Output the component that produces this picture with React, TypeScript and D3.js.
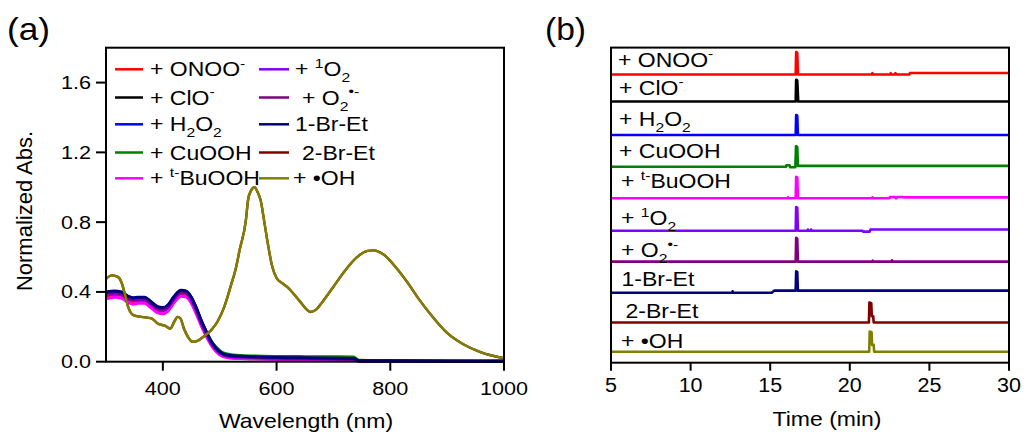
import React from "react";
import * as d3 from "d3";

// ---------------- Panel (a) data : UV-vis spectra ----------------
const wavelengths = [300, 315, 327, 339, 348, 356, 368, 377, 391, 400, 409, 420, 432, 441, 450, 458, 467, 476, 485, 493, 505, 520, 545, 600, 650, 700, 735, 745, 800, 900, 1000];
const absONOO = [0.375, 0.385, 0.38, 0.355, 0.345, 0.35, 0.35, 0.33, 0.295, 0.29, 0.305, 0.355, 0.39, 0.385, 0.35, 0.295, 0.225, 0.16, 0.105, 0.07, 0.038, 0.028, 0.025, 0.02, 0.018, 0.016, 0.015, 0.004, 0.003, 0.002, 0.001];
const absClO = [0.396, 0.401, 0.396, 0.371, 0.362, 0.366, 0.366, 0.346, 0.311, 0.306, 0.321, 0.371, 0.406, 0.401, 0.366, 0.311, 0.236, 0.171, 0.113, 0.076, 0.043, 0.031, 0.027, 0.022, 0.02, 0.018, 0.016, 0.005, 0.004, 0.003, 0.002];
const absH2O2 = [0.398, 0.403, 0.398, 0.373, 0.364, 0.368, 0.368, 0.348, 0.313, 0.308, 0.323, 0.373, 0.408, 0.403, 0.368, 0.313, 0.238, 0.173, 0.115, 0.078, 0.044, 0.032, 0.028, 0.023, 0.021, 0.019, 0.017, 0.006, 0.005, 0.003, 0.002];
const absCuOOH = [0.39, 0.395, 0.39, 0.365, 0.356, 0.36, 0.36, 0.34, 0.305, 0.3, 0.315, 0.365, 0.4, 0.395, 0.36, 0.307, 0.235, 0.172, 0.118, 0.085, 0.052, 0.04, 0.034, 0.03, 0.029, 0.028, 0.027, 0.008, 0.006, 0.004, 0.002];
const absTBuOOH = [0.36, 0.37, 0.365, 0.34, 0.33, 0.335, 0.335, 0.315, 0.28, 0.275, 0.29, 0.34, 0.375, 0.37, 0.335, 0.28, 0.21, 0.148, 0.095, 0.06, 0.03, 0.02, 0.017, 0.013, 0.012, 0.011, 0.01, 0.003, 0.002, 0.001, 0.001];
const abs1O2 = [0.385, 0.39, 0.385, 0.36, 0.351, 0.355, 0.355, 0.335, 0.3, 0.295, 0.31, 0.36, 0.395, 0.39, 0.355, 0.3, 0.226, 0.163, 0.108, 0.072, 0.04, 0.029, 0.025, 0.02, 0.018, 0.016, 0.015, 0.005, 0.004, 0.003, 0.002];
const absO2 = [0.39, 0.395, 0.39, 0.365, 0.356, 0.36, 0.36, 0.34, 0.305, 0.3, 0.315, 0.365, 0.4, 0.395, 0.36, 0.305, 0.23, 0.166, 0.11, 0.074, 0.042, 0.031, 0.027, 0.022, 0.02, 0.018, 0.016, 0.005, 0.004, 0.003, 0.002];
const abs1BrEt = [0.4, 0.405, 0.4, 0.375, 0.366, 0.37, 0.37, 0.35, 0.315, 0.31, 0.325, 0.375, 0.41, 0.405, 0.37, 0.315, 0.24, 0.175, 0.117, 0.08, 0.046, 0.034, 0.03, 0.024, 0.022, 0.02, 0.018, 0.006, 0.005, 0.003, 0.002];

const ohWavelengths = [300, 310, 320, 327, 333, 339, 348, 362, 380, 391, 405, 413, 420, 426, 431, 437, 444, 452, 461, 473, 485, 496, 508, 520, 528, 535, 546, 550, 555, 561, 567, 572, 578, 585, 592, 600, 610, 620, 640, 660, 670, 680, 700, 720, 740, 760, 770, 780, 790, 810, 830, 850, 870, 900, 930, 960, 1000];
const absOH = [0.475, 0.495, 0.488, 0.457, 0.39, 0.314, 0.267, 0.257, 0.248, 0.219, 0.204, 0.19, 0.229, 0.257, 0.248, 0.19, 0.143, 0.114, 0.12, 0.147, 0.181, 0.229, 0.314, 0.44, 0.53, 0.64, 0.81, 0.93, 0.98, 1.0, 0.97, 0.925, 0.81, 0.67, 0.55, 0.48, 0.45, 0.425, 0.35, 0.285, 0.3, 0.34, 0.43, 0.52, 0.595, 0.635, 0.638, 0.63, 0.61, 0.54, 0.455, 0.36, 0.275, 0.165, 0.097, 0.054, 0.02];
const abs2BrEt = absOH; // identical spectrum, hidden under the •OH trace

const aXTicks = [400, 600, 800, 1000];
const aYTicks = [0, 0.4, 0.8, 1.2, 1.6];

// ---------------- Panel (b) data : HPLC traces ----------------
// [time (min), signal above the trace's own baseline]
const hplcONOO: [number, number][] = [[5, 0], [16.6, 0], [16.63, 0.72], [16.7, 0.7], [16.74, 0], [21.4, 0], [21.42, 0.04], [21.47, 0], [22.55, 0], [22.57, 0.04], [22.62, 0], [22.85, 0], [22.87, 0.04], [22.92, 0], [23.75, 0], [23.78, 0.045], [30, 0.045]];
const hplcClO: [number, number][] = [[5, 0], [16.6, 0], [16.63, 0.7], [16.7, 0.68], [16.76, 0], [30, 0]];
const hplcH2O2: [number, number][] = [[5, 0], [16.6, 0], [16.63, 0.64], [16.7, 0.62], [16.74, 0], [30, 0]];
const hplcCuOOH: [number, number][] = [[5, 0], [16.0, 0], [16.02, 0.05], [16.22, 0.05], [16.25, -0.015], [16.58, -0.015], [16.62, 0.66], [16.7, 0.64], [16.74, 0.03], [30, 0.03]];
const hplcTBuOOH: [number, number][] = [[5, 0], [16.1, 0], [16.12, 0.03], [16.15, 0], [16.6, 0], [16.63, 0.69], [16.7, 0.67], [16.74, 0], [21.4, 0], [21.42, 0.03], [21.47, 0], [22.5, 0], [22.52, 0.04], [22.85, 0.04], [22.88, 0], [22.95, 0], [22.97, 0.04], [23.3, 0.04], [23.35, 0.03], [30, 0.03]];
const hplc1O2: [number, number][] = [[5, 0], [16.6, 0], [16.63, 0.76], [16.7, 0.74], [16.74, 0], [17.35, 0], [17.37, 0.04], [17.4, 0], [17.55, 0], [17.57, 0.04], [17.6, 0], [20.8, 0], [20.83, -0.03], [21.25, -0.03], [21.3, 0.04], [30, 0.04]];
const hplcO2: [number, number][] = [[5, 0], [16.6, 0], [16.63, 0.76], [16.7, 0.74], [16.74, 0], [21.42, 0], [21.44, 0.03], [21.47, 0], [22.63, 0], [22.65, 0.04], [22.7, 0], [30, 0]];
const hplc1BrEt: [number, number][] = [[5, 0], [12.62, 0], [12.64, 0.05], [12.68, 0], [15.1, 0], [15.25, 0.07], [16.6, 0.07], [16.63, 0.69], [16.7, 0.67], [16.74, 0.07], [30, 0.07]];
const hplc2BrEt: [number, number][] = [[5, 0], [21.2, 0], [21.23, 0.64], [21.35, 0.62], [21.38, 0.2], [21.47, 0.2], [21.5, 0], [30, 0]];
const hplcOH: [number, number][] = [[5, 0], [21.22, 0], [21.25, 0.65], [21.37, 0.63], [21.4, 0.22], [21.5, 0.22], [21.53, 0], [30, 0]];
const hplcOffsets = [9.24, 8.37, 7.3, 6.28, 5.27, 4.23, 3.24, 2.24, 1.29, 0.35];
const bXTicks = [5, 10, 15, 20, 25, 30];

// ---------------- labels & colours ----------------
type Part = { t: string; s?: "sup" | "sub" };
const labONOO: Part[] = [{ t: "+ ONOO" }, { t: "-", s: "sup" }];
const labClO: Part[] = [{ t: "+ ClO" }, { t: "-", s: "sup" }];
const labH2O2: Part[] = [{ t: "+ H" }, { t: "2", s: "sub" }, { t: "O" }, { t: "2", s: "sub" }];
const labCuOOH: Part[] = [{ t: "+ CuOOH" }];
const labTBuOOH: Part[] = [{ t: "+ " }, { t: "t-", s: "sup" }, { t: "BuOOH" }];
const lab1O2: Part[] = [{ t: "+ " }, { t: "1", s: "sup" }, { t: "O" }, { t: "2", s: "sub" }];
const labO2: Part[] = [{ t: "+ O" }, { t: "2", s: "sub" }, { t: "•-", s: "sup" }];
const lab1BrEt: Part[] = [{ t: "1-Br-Et" }];
const lab2BrEt: Part[] = [{ t: "2-Br-Et" }];
const labOH: Part[] = [{ t: "+ •OH" }];

const colors = ["#ff0000", "#000000", "#0000ff", "#008000", "#ff00ff", "#8000ff", "#800080", "#000080", "#800000", "#808000"];

const specSeries = [
  { wl: wavelengths, v: absONOO, lab: labONOO },
  { wl: wavelengths, v: absClO, lab: labClO },
  { wl: wavelengths, v: absH2O2, lab: labH2O2 },
  { wl: wavelengths, v: absCuOOH, lab: labCuOOH },
  { wl: wavelengths, v: absTBuOOH, lab: labTBuOOH },
  { wl: wavelengths, v: abs1O2, lab: lab1O2 },
  { wl: wavelengths, v: absO2, lab: labO2 },
  { wl: wavelengths, v: abs1BrEt, lab: lab1BrEt },
  { wl: ohWavelengths, v: abs2BrEt, lab: lab2BrEt },
  { wl: ohWavelengths, v: absOH, lab: labOH },
];
const hplcSeries = [hplcONOO, hplcClO, hplcH2O2, hplcCuOOH, hplcTBuOOH, hplc1O2, hplcO2, hplc1BrEt, hplc2BrEt, hplcOH];

// ---------------- layout ----------------
const FONT = "'Liberation Sans', Arial, Helvetica, sans-serif";
const SX = 1.15;
const legendRowY = [69.3, 97.5, 124.3, 152.5, 178.3];
const legendCol1 = { x1: 115, x2: 143, tx: 150 };
const legendCol2 = { x1: 259, x2: 289, tx: [295, 302, 295, 302, 293] };
const bLabelX = [618, 619, 619, 619, 621, 621, 621, 621.5, 625.5, 621];
const bLabelGap = [7.6, 6.7, 9, 8.7, 10.3, 5.7, 4.7, 6.7, 4.3, 3.7];

function Rich({ parts, fs }: { parts: Part[]; fs: number }) {
  let cur = 0;
  return (
    <>
      {parts.map((p, i) => {
        const target = p.s === "sup" ? -0.42 * fs : p.s === "sub" ? 0.3 * fs : 0;
        const dy = target - cur;
        cur = target;
        return (
          <tspan key={i} dy={dy} fontSize={p.s ? fs * 0.68 : fs} style={{ whiteSpace: "pre" }}>
            {p.t}
          </tspan>
        );
      })}
    </>
  );
}

function SText({ x, y, fs, sx = SX, anchor = "start", children, rotate = 0 }: any) {
  return (
    <text
      transform={`translate(${x},${y}) rotate(${rotate}) scale(${sx},1)`}
      fontSize={fs}
      fontFamily={FONT}
      textAnchor={anchor}
      fill="#000"
      style={{ whiteSpace: "pre" }}
    >
      {children}
    </text>
  );
}

export default function App() {
  // Panel a scales
  const ax = d3.scaleLinear().domain([300, 1000]).range([106, 504]);
  const ay = d3.scaleLinear().domain([0, 1.8]).range([361.7, 47.7]);
  // Panel b scales
  const bx = d3.scaleLinear().domain([5, 30]).range([611, 1009]);
  const by = d3.scaleLinear().domain([0, 10.1]).range([362.7, 47.6]);

  const fmtA = d3.format(".1f");

  const specLine = (wl: number[], v: number[]) =>
    d3
      .line<number>()
      .x((_, i) => ax(wl[i]))
      .y((d) => ay(d))
      .curve(d3.curveMonotoneX)(v) || "";

  const hplcLine = (pts: [number, number][], off: number) =>
    d3
      .line<[number, number]>()
      .x((d) => bx(d[0]))
      .y((d) => by(d[1] + off))(pts) || "";

  return (
    <svg
      width={1027}
      height={434}
      style={{ position: "absolute", left: 0, top: 0, background: "#fff", display: "block" }}
    >
      <rect x={0} y={0} width={1027} height={434} fill="#fff" />

      {/* ---------- Panel (a) ---------- */}
      <SText x={7} y={39.5} fs={32} sx={1.1}>(a)</SText>

      {specSeries.map((s, i) => (
        <path
          key={i}
          d={specLine(s.wl, s.v)}
          fill="none"
          stroke={colors[i]}
          strokeWidth={i < 8 ? 3 : 2.4}
          strokeLinejoin="round"
        />
      ))}

      {/* frame */}
      <rect x={ax(300)} y={ay(1.8)} width={ax(1000) - ax(300)} height={ay(0) - ay(1.8)} fill="none" stroke="#000" strokeWidth={2} />

      {/* y ticks */}
      {aYTicks.map((t) => (
        <g key={t}>
          <line x1={ax(300) - 10} x2={ax(300)} y1={ay(t)} y2={ay(t)} stroke="#000" strokeWidth={2} />
          <SText x={91} y={ay(t) + 6.5} fs={18} sx={1.2} anchor="end">{fmtA(t)}</SText>
        </g>
      ))}
      {/* x ticks */}
      {aXTicks.map((t) => (
        <g key={t}>
          <line x1={ax(t)} x2={ax(t)} y1={ay(0)} y2={ay(0) + 9} stroke="#000" strokeWidth={2} />
          <SText x={ax(t)} y={395} fs={18} sx={1.2} anchor="middle">{String(t)}</SText>
        </g>
      ))}
      <SText x={306} y={428} fs={20} anchor="middle">Wavelength (nm)</SText>
      <SText x={32} y={211} fs={22} sx={1} anchor="middle" rotate={-90}>Normalized Abs.</SText>

      {/* legend */}
      {specSeries.map((s, i) => {
        const col = i < 5 ? 0 : 1;
        const row = i % 5;
        const yy = legendRowY[row];
        const x1 = col === 0 ? legendCol1.x1 : legendCol2.x1;
        const x2 = col === 0 ? legendCol1.x2 : legendCol2.x2;
        const tx = col === 0 ? legendCol1.tx : legendCol2.tx[row];
        return (
          <g key={i}>
            <line x1={x1} x2={x2} y1={yy} y2={yy} stroke={colors[i]} strokeWidth={2.5} />
            <SText x={tx} y={yy + 7} fs={20}>
              <Rich parts={s.lab} fs={20} />
            </SText>
          </g>
        );
      })}

      {/* ---------- Panel (b) ---------- */}
      <SText x={545} y={39.5} fs={32} sx={1.05}>(b)</SText>

      {hplcSeries.map((pts, i) => (
        <path
          key={i}
          d={hplcLine(pts, hplcOffsets[i])}
          fill="none"
          stroke={colors[i]}
          strokeWidth={2.6}
          strokeLinejoin="round"
        />
      ))}

      <rect x={bx(5)} y={by(10.1)} width={bx(30) - bx(5)} height={by(0) - by(10.1)} fill="none" stroke="#000" strokeWidth={2} />

      {hplcSeries.map((_, i) => (
        <SText key={i} x={bLabelX[i]} y={by(hplcOffsets[i]) - bLabelGap[i]} fs={20}>
          <Rich parts={specSeries[i].lab} fs={20} />
        </SText>
      ))}

      {bXTicks.map((t) => (
        <g key={t}>
          <line x1={bx(t)} x2={bx(t)} y1={by(0)} y2={by(0) + 8} stroke="#000" strokeWidth={2} />
          <SText x={bx(t)} y={391.5} fs={20.5} sx={1.05} anchor="middle">{String(t)}</SText>
        </g>
      ))}
      <SText x={827} y={426} fs={20} anchor="middle">Time (min)</SText>
    </svg>
  );
}
